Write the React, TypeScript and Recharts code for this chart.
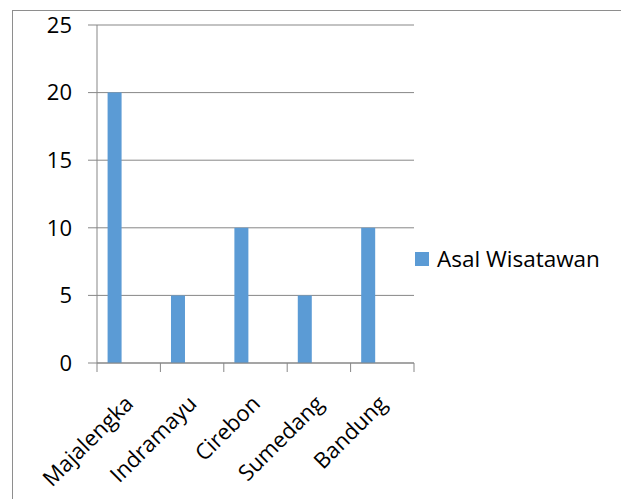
import { BarChart, Bar, XAxis, YAxis, CartesianGrid, Legend } from 'recharts'

const categories = ['Majalengka', 'Indramayu', 'Cirebon', 'Sumedang', 'Bandung']
const asalWisatawan = [20, 5, 10, 5, 10]
// two empty series in the source sheet, they only take space in each category
const seri2 = [null, null, null, null, null]
const seri3 = [null, null, null, null, null]
const yTicks = [0, 5, 10, 15, 20, 25]

const data = categories.map((name, i) => ({
  name,
  'Asal Wisatawan': asalWisatawan[i],
  seri2: seri2[i],
  seri3: seri3[i],
}))

const W = 621
const H = 499
const FONT = '"Open Sans", sans-serif'
const GRID = '#878787'
const BLUE = '#5b9bd5'
const PLOT_LEFT = 97
const PLOT_RIGHT = 414
const HALF_BAND = (PLOT_RIGHT - PLOT_LEFT) / categories.length / 2

const CategoryTick = (props: any) => {
  const { x, y, payload, index } = props
  const tx = x + 6
  const ty = y + 42
  return (
    <g>
      <line x1={x - HALF_BAND} y1={y} x2={x - HALF_BAND} y2={y + 9} stroke={GRID} />
      {index === categories.length - 1 && (
        <line x1={x + HALF_BAND} y1={y} x2={x + HALF_BAND} y2={y + 9} stroke={GRID} />
      )}
      <text
        x={tx}
        y={ty}
        textAnchor="end"
        transform={`rotate(-45, ${tx}, ${ty})`}
        fontFamily={FONT}
        fontSize={22}
        fill="#000"
      >
        {payload.value}
      </text>
    </g>
  )
}

const LegendBox = ({ payload }: any) => (
  <div style={{ fontFamily: FONT, fontSize: 22.5, color: '#000' }}>
    {(payload || [])
      .filter((p: any) => p.type !== 'none')
      .map((p: any) => (
        <div key={p.value} style={{ display: 'flex', alignItems: 'center' }}>
          <span style={{ width: 14, height: 14, background: p.color, marginRight: 8 }} />
          <span>{p.value}</span>
        </div>
      ))}
  </div>
)

export default function App() {
  return (
    <div style={{ position: 'fixed', left: 0, top: 0, width: W, height: H, overflow: 'hidden', background: '#fff' }}>
      <div
        style={{
          position: 'absolute',
          left: 12,
          top: 10,
          width: 700,
          height: 600,
          borderLeft: '1px solid #8e8e8e',
          borderTop: '1px solid #8e8e8e',
        }}
      />
      <div style={{ position: 'absolute', left: 0, top: 0 }}>
        <BarChart
          width={W}
          height={H}
          data={data}
          margin={{ top: 25, right: W - PLOT_RIGHT, bottom: 0, left: 37 }}
          barCategoryGap="16.7%"
          barGap={0}
        >
          <CartesianGrid vertical={false} stroke={GRID} />
          <XAxis
            dataKey="name"
            height={136}
            interval={0}
            tickLine={false}
            tickSize={0}
            tickMargin={0}
            axisLine={{ stroke: GRID }}
            tick={<CategoryTick />}
          />
          <YAxis
            width={60}
            domain={[0, 25]}
            ticks={yTicks}
            interval={0}
            tickSize={9}
            tickMargin={16}
            axisLine={{ stroke: GRID }}
            tickLine={{ stroke: GRID }}
            tick={{ fill: '#000', fontFamily: FONT, fontSize: 22 }}
          />
          <Legend
            layout="vertical"
            align="center"
            verticalAlign="middle"
            wrapperStyle={{ left: 415, top: 243, width: 'auto' }}
            content={<LegendBox />}
          />
          <Bar dataKey="Asal Wisatawan" fill={BLUE} isAnimationActive={false} />
          <Bar dataKey="seri2" fill={BLUE} legendType="none" isAnimationActive={false} />
          <Bar dataKey="seri3" fill={BLUE} legendType="none" isAnimationActive={false} />
        </BarChart>
      </div>
    </div>
  )
}
